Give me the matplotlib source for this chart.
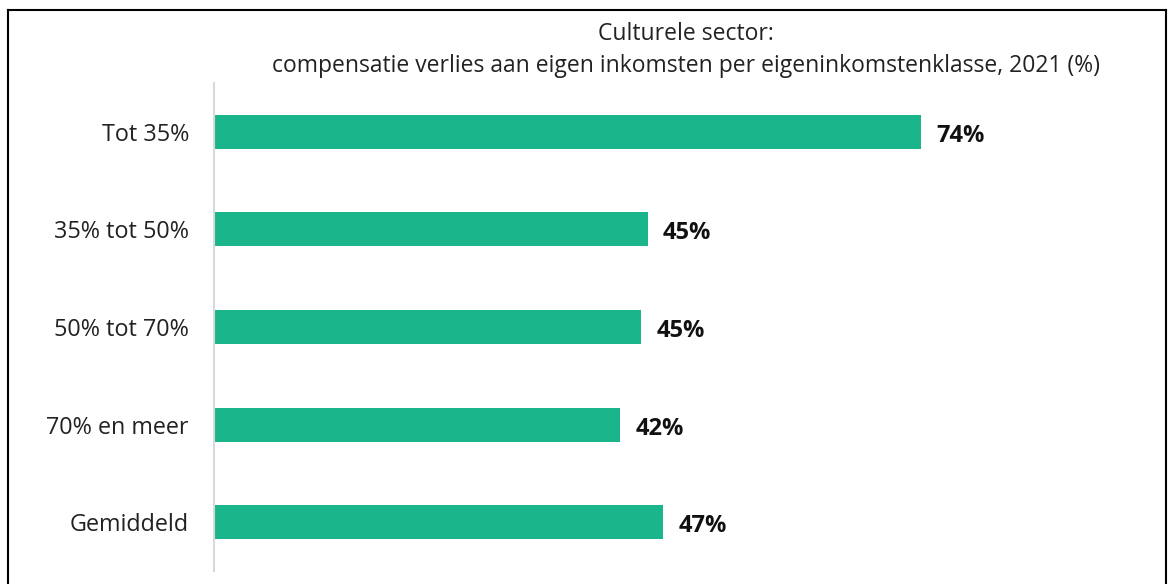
import matplotlib
matplotlib.use("Agg")
import matplotlib.pyplot as plt
from matplotlib.lines import Line2D

categories = ["Tot 35%", "35% tot 50%", "50% tot 70%", "70% en meer", "Gemiddeld"]
values = [74.0, 45.4, 44.7, 42.5, 47.0]
title = "Culturele sector:\ncompensatie verlies aan eigen inkomsten per eigeninkomstenklasse, 2021 (%)"

plt.rcParams['font.family'] = ['Open Sans', 'DejaVu Sans']

W, H = 1168, 584
fig = plt.figure(figsize=(W / 100, H / 100), dpi=100)

# assen: x van 214px, y van 83px tot 571px
ax = fig.add_axes([214 / W, (H - 571) / H, 955.4 / W, 488 / H])
pos = list(range(len(categories)))
ax.barh(pos, values, height=0.35, color="#1bb58c")
ax.set_xlim(0, 100)
ax.set_ylim(len(categories) - 0.5, -0.5)

for p, v in zip(pos, values):
    ax.text(v + 1.6, p + 0.04, f"{v:.0f}%", va="center", ha="left",
            fontsize=17, fontweight="bold", color="#111111")

ax.set_yticks(pos)
ax.set_yticklabels(categories, fontsize=16.8, color="#222222")
ax.tick_params(axis="y", length=0, pad=18)
ax.set_xticks([])
for s in ["top", "right", "bottom"]:
    ax.spines[s].set_visible(False)
ax.spines["left"].set_color("#d9d9d9")
ax.spines["left"].set_linewidth(1.5)

fig.text(686 / W, 1 - 50 / H, title, ha="center", va="center",
         fontsize=16.5, color="#222222", linespacing=1.45)

# kader rond de figuur
kw = dict(color="black", linewidth=1.5, transform=fig.transFigure)
fig.add_artist(Line2D([7.5 / W, 7.5 / W], [0, 1 - 9.5 / H], **kw))
fig.add_artist(Line2D([7.5 / W, 1166 / W], [1 - 9.5 / H, 1 - 9.5 / H], **kw))
fig.add_artist(Line2D([1166 / W, 1166 / W], [0, 1 - 9.5 / H], **kw))

fig.savefig("out.png", dpi=100)
